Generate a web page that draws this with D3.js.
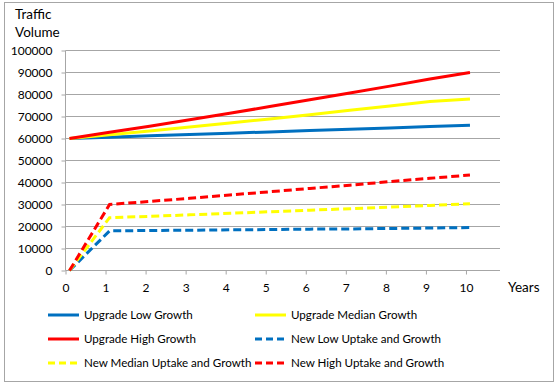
<!DOCTYPE html>
<head>
  <meta charset="utf-8">
  <script src="https://d3js.org/d3.v7.min.js"></script>
  <style>
    body { margin: 0; background: #fff; }
    text { font-family: Lato, "Open Sans", sans-serif; font-size: 12px; fill: #000; }
    .legend text { font-size: 11.6px; }
    .title { font-size: 13.5px; }
    .grid line { stroke: #a6a6a6; stroke-width: 1px; }
    .axis path, .axis line { stroke: #a6a6a6; }
  </style>
</head>
<body>
  <svg id="chart"></svg>
  <script>

    // years as plotted (points sit slightly right of the tick marks)
    var years = [0.1, 1.1, 2.1, 3.1, 4.1, 5.1, 6.1, 7.1, 8.1, 9.1, 10.1];
    var xTicks = [0, 1, 2, 3, 4, 5, 6, 7, 8, 9, 10];
    var yTicks = [0, 10000, 20000, 30000, 40000, 50000, 60000, 70000, 80000, 90000, 100000];

    var upgradeLow    = [60000, 60600, 61200, 61800, 62400, 63000, 63600, 64200, 64800, 65400, 66000];
    var upgradeMedian = [60000, 61700, 63400, 65200, 67000, 68900, 70800, 72800, 74800, 76800, 77900];
    var upgradeHigh   = [60000, 62800, 65600, 68500, 71500, 74500, 77600, 80700, 83800, 87000, 90000];
    var newLow        = [0, 18000, 18200, 18300, 18500, 18600, 18800, 18900, 19100, 19300, 19500];
    var newMedian     = [0, 24000, 24600, 25300, 26000, 26700, 27400, 28100, 28800, 29600, 30300];
    var newHigh       = [0, 30000, 31400, 32800, 34300, 35800, 37300, 38800, 40400, 41900, 43400];

    var seriesNames = ["Upgrade Low Growth", "Upgrade Median Growth", "Upgrade High Growth",
                       "New Low Uptake and Growth", "New Median Uptake and Growth", "New High Uptake and Growth"];
    var seriesValues = [upgradeLow, upgradeMedian, upgradeHigh, newLow, newMedian, newHigh];
    var seriesColors = ["#0070c0", "#ffff00", "#ff0000", "#0070c0", "#ffff00", "#ff0000"];
    var seriesDashed = [false, false, false, true, true, true];

    var width = 558, height = 385;
    var svg = d3.select("#chart").attr("width", width).attr("height", height);

    svg.append("rect")
        .attr("x", 4.5).attr("y", 2.5)
        .attr("width", 549).attr("height", 379)
        .attr("fill", "#fff").attr("stroke", "#a6a6a6");

    var x = d3.scaleLinear().domain([0, 10.85]).range([65.5, 500]);
    var y = d3.scaleLinear().domain([0, 100000]).range([270.5, 50.5]);

    // gridlines
    svg.append("g").attr("class", "grid")
      .selectAll("line")
      .data(yTicks.filter(function(d) { return d > 0; }))
      .enter().append("line")
        .attr("x1", x(0)).attr("x2", x.range()[1])
        .attr("y1", function(d) { return y(d); })
        .attr("y2", function(d) { return y(d); });

    var yAxis = svg.append("g").attr("class", "axis")
        .attr("transform", "translate(" + x(0) + ",0)")
        .call(d3.axisLeft(y).tickValues(yTicks).tickSize(4).tickPadding(9).tickFormat(d3.format("d")));
    yAxis.select(".domain").attr("d", "M0," + y(0) + "V" + y(100000));
    yAxis.selectAll("text").attr("dy", "0.35em");

    var xAxis = svg.append("g").attr("class", "axis")
        .attr("transform", "translate(0," + y(0) + ")")
        .call(d3.axisBottom(x).tickValues(xTicks).tickSize(4).tickPadding(9).tickFormat(d3.format("d")));
    xAxis.select(".domain").attr("d", "M" + x(0) + ",0H" + x.range()[1]);

    var line = d3.line()
        .x(function(d, i) { return x(years[i]); })
        .y(function(d) { return y(d); });

    svg.append("g")
      .selectAll("path")
      .data(seriesValues)
      .enter().append("path")
        .attr("d", line)
        .attr("fill", "none")
        .attr("stroke", function(d, i) { return seriesColors[i]; })
        .attr("stroke-width", 3)
        .attr("stroke-dasharray", function(d, i) { return seriesDashed[i] ? "8,4" : null; });

    // axis titles
    svg.append("text").attr("class", "title").attr("x", 15).attr("y", 19).text("Traffic");
    svg.append("text").attr("class", "title").attr("x", 15).attr("y", 37).text("Volume");
    svg.append("text").attr("class", "title").attr("x", 508).attr("y", 292).text("Years");

    // legend
    var legend = svg.append("g").attr("class", "legend")
      .selectAll("g")
      .data(seriesNames)
      .enter().append("g")
        .attr("transform", function(d, i) {
          return "translate(" + (i % 2 ? 255 : 48) + "," + (315 + Math.floor(i / 2) * 24) + ")";
        });

    legend.append("line")
        .attr("x1", 0).attr("x2", 31)
        .attr("stroke", function(d, i) { return seriesColors[i]; })
        .attr("stroke-width", 3)
        .attr("stroke-dasharray", function(d, i) { return seriesDashed[i] ? "7,4" : null; });

    legend.append("text")
        .attr("x", 36).attr("dy", "0.35em")
        .text(function(d) { return d; });

  </script>
</body>
</html>
